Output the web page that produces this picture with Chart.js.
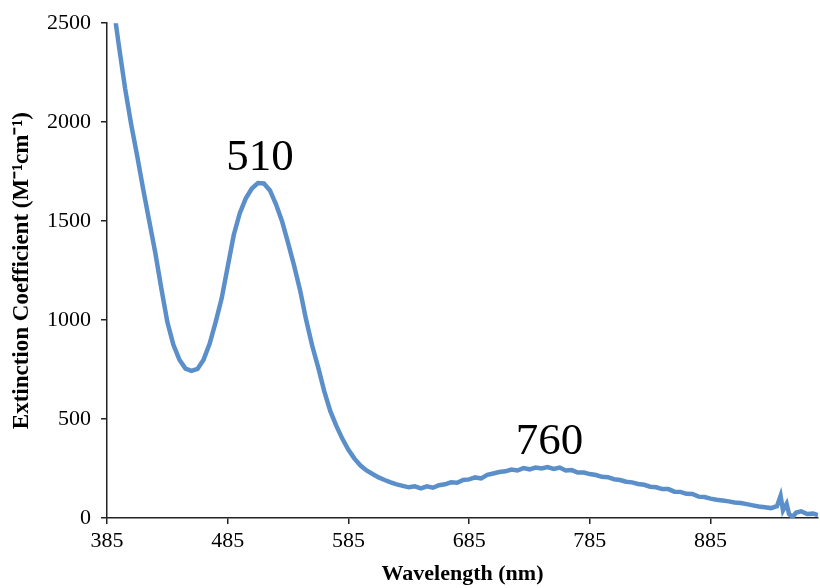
<!DOCTYPE html>
<html lang="en">
	<head>
		<meta charset="UTF-8" />
		<title>Extinction spectrum</title>
		<script src="https://cdn.jsdelivr.net/npm/chart.js@4.4.0/dist/chart.umd.min.js"></script>
		<style>
			html, body { margin: 0; padding: 0; background: #fff; }
			#wrap { width: 820px; height: 588px; }
		</style>
	</head>
	<body>
		<div id="wrap"><canvas id="myChart"></canvas></div>
	</body>
	<script>
		// wavelength (nm) and extinction coefficient
		var wavelength = [
			385, 390, 395, 400, 405, 410, 415, 420, 425, 430, 435, 440, 445, 450, 455, 460, 465, 470, 475, 480,
			485, 490, 495, 500, 505, 510, 515, 520, 525, 530, 535, 540, 545, 550, 555, 560, 565, 570, 575, 580,
			585, 590, 595, 600, 605, 610, 615, 620, 625, 630, 635, 640, 645, 650, 655, 660, 665, 670, 675, 680,
			685, 690, 695, 700, 705, 710, 715, 720, 725, 730, 735, 740, 745, 750, 755, 760, 765, 770, 775, 780,
			785, 790, 795, 800, 805, 810, 815, 820, 825, 830, 835, 840, 845, 850, 855, 860, 865, 870, 875, 880,
			885, 890, 895, 900, 905, 910, 915, 920, 925, 930, 935, 940, 943, 945, 948, 950, 953, 956, 960, 965,
			970, 974
		];
		var extinction = [
			2800, 2600, 2380, 2170, 1990, 1830, 1660, 1500, 1340, 1160, 990, 875, 800, 755, 743, 753, 800, 880, 990, 1110,
			1270, 1430, 1540, 1615, 1665, 1692, 1690, 1655, 1585, 1500, 1390, 1275, 1150, 1000, 870, 760, 640, 540, 465, 400,
			345, 300, 265, 240, 222, 205, 192, 180, 170, 162, 155, 160, 150, 160, 153, 166, 170, 180, 178, 192,
			195, 205, 200, 218, 225, 232, 236, 245, 240, 252, 246, 255, 250, 257, 248, 255, 240, 242, 230, 230,
			222, 217, 208, 206, 196, 192, 183, 180, 172, 168, 158, 155, 146, 146, 133, 132, 122, 121, 108, 106,
			98, 92, 88, 84, 78, 76, 70, 64, 58, 54, 50, 60, 112, 38, 72, 20, 6, 28, 34, 20,
			22, 15
		];
		var xTicks = [385, 485, 585, 685, 785, 885];
		var peaks = [510, 760];

		var peakLabels = {
			id: "peakLabels",
			afterDatasetsDraw: function (chart) {
				var ctx = chart.ctx;
				var xs = chart.scales.x;
				var ys = chart.scales.y;
				ctx.save();
				ctx.fillStyle = "#000";
				ctx.font = "45px 'Liberation Serif', serif";
				ctx.textAlign = "center";
				ctx.textBaseline = "alphabetic";
				peaks.forEach(function (p) {
					// highest point of the curve around the peak
					var best = 0, bestW = p;
					wavelength.forEach(function (w, i) {
						if (Math.abs(w - p) <= 15 && extinction[i] > best) {
							best = extinction[i];
							bestW = w;
						}
					});
					ctx.fillText(String(p), xs.getPixelForValue(bestW) + 2, ys.getPixelForValue(best) - 13);
				});
				ctx.restore();
			},
		};

		var points = wavelength.map(function (w, i) {
			return { x: w, y: extinction[i] };
		});

		var chart = new Chart(document.getElementById("myChart"), {
			type: "line",
			data: {
				datasets: [
					{
						data: points,
						borderColor: "#5b8fca",
						borderWidth: 4.5,
						pointRadius: 0,
						tension: 0,
						fill: false,
					},
				],
			},
			options: {
				responsive: true,
				maintainAspectRatio: false,
				animation: false,
				layout: { padding: { top: 19, right: 2, left: 0, bottom: 0 } },
				plugins: { legend: { display: false }, tooltip: { enabled: false } },
				scales: {
					x: {
						type: "linear",
						min: 385,
						max: 974,
						afterBuildTicks: function (s) {
							s.ticks = xTicks.map(function (v) {
								return { value: v };
							});
						},
						afterFit: function (s) {
							s.height = 70;
						},
						border: { color: "#222", width: 1.5 },
						grid: { drawOnChartArea: false, tickLength: 6, color: "#222", lineWidth: 1.5 },
						ticks: {
							color: "#000",
							padding: 4,
							maxRotation: 0,
							callback: function (v) {
								return String(v);
							},
							font: { family: "'Liberation Serif', serif", size: 22 },
						},
						title: {
							display: true,
							text: "Wavelength (nm)",
							color: "#000",
							padding: { top: 0, bottom: 0 },
							font: { family: "'Liberation Serif', serif", size: 22, weight: "bold" },
						},
					},
					y: {
						min: 0,
						max: 2500,
						afterFit: function (s) {
							s.width = 107;
						},
						border: { color: "#222", width: 1.5 },
						grid: { drawOnChartArea: false, tickLength: 6, color: "#222", lineWidth: 1.5 },
						ticks: {
							stepSize: 500,
							color: "#000",
							padding: 10,
							callback: function (v) {
								return String(v);
							},
							font: { family: "'Liberation Serif', serif", size: 22 },
						},
						title: {
							display: true,
							text: "Extinction Coefficient (M\u207B\u00B9cm\u207B\u00B9)",
							color: "#000",
							padding: { top: 8, bottom: 0 },
							font: { family: "'Liberation Serif', serif", size: 23, weight: "bold" },
						},
					},
				},
			},
			plugins: [peakLabels],
		});
	</script>
</html>
